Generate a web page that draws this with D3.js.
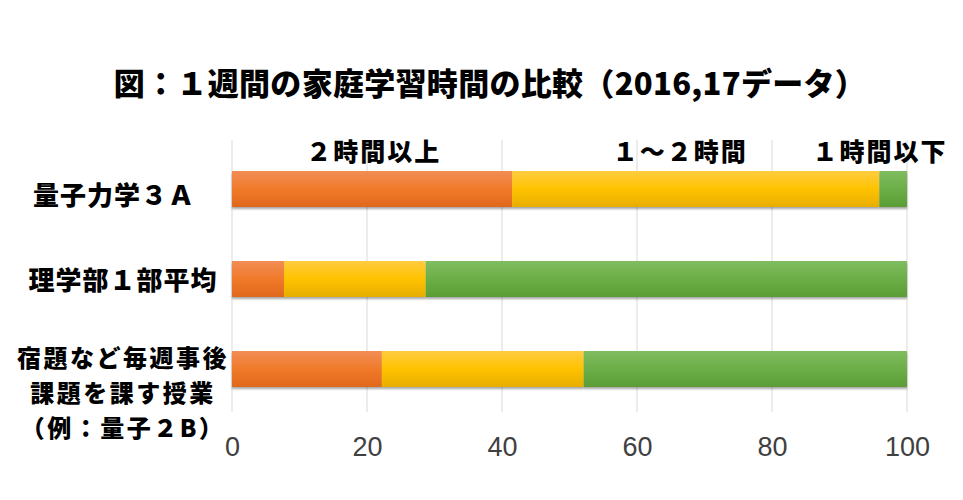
<!DOCTYPE html>
<html><head><meta charset="utf-8">
<script src="https://cdn.jsdelivr.net/npm/d3@7"></script>
<style>
html,body{margin:0;padding:0;background:#fff;}
svg{display:block;}
</style>
</head><body>
<div id="chart"></div>
<script>
const title = "図：１週間の家庭学習時間の比較（2016,17データ）";
const categories = [
  ["量子力学３Ａ"],
  ["理学部１部平均"],
  ["宿題など毎週事後", "課題を課す授業", "（例：量子２B）"]
];
const seriesNames = ["２時間以上", "１～２時間", "１時間以下"];
const over2h = [41.5, 7.7, 22.2];
const oneTo2h = [54.4, 21.0, 29.9];
const under1h = [4.1, 71.3, 47.9];
const tickValues = [0, 20, 40, 60, 80, 100];

const W = 963, H = 500;
const svg = d3.select("#chart").append("svg").attr("width", W).attr("height", H);
const defs = svg.append("defs");
const grads = [
  ["#f28d55", "#f07a2a", "#e0681c"],
  ["#ffcc40", "#ffc200", "#e6ae00"],
  ["#80bc60", "#6cae47", "#5a9d35"]
];
grads.forEach((g, i) => {
  const lg = defs.append("linearGradient").attr("id", "g" + i)
    .attr("x1", 0).attr("y1", 0).attr("x2", 0).attr("y2", 1);
  lg.append("stop").attr("offset", "0%").attr("stop-color", g[0]);
  lg.append("stop").attr("offset", "50%").attr("stop-color", g[1]);
  lg.append("stop").attr("offset", "100%").attr("stop-color", g[2]);
});
const f = defs.append("filter").attr("id", "sh").attr("x", "-5%").attr("y", "-20%").attr("width", "110%").attr("height", "160%");
f.append("feDropShadow").attr("dx", 0).attr("dy", 2).attr("stdDeviation", 1.2)
  .attr("flood-color", "#000").attr("flood-opacity", 0.35);

const x = d3.scaleLinear().domain([0, 100]).range([232, 907]);
const y = d3.scaleBand().domain(d3.range(categories.length)).range([144, 414])
  .paddingInner(0.6).paddingOuter(0.3);

// gridlines
svg.append("g").selectAll("line").data(tickValues).join("line")
  .attr("x1", d => x(d)).attr("x2", d => x(d))
  .attr("y1", 140).attr("y2", 412)
  .attr("stroke", "#d9d9d9").attr("stroke-width", 1);

// axis labels
const axis = d3.axisBottom(x).tickValues(tickValues).tickSize(0).tickPadding(0);
const ag = svg.append("g").attr("transform", "translate(0,437)").call(axis);
ag.select(".domain").remove();
ag.selectAll("text").attr("font-family", "'Liberation Sans', Arial, sans-serif")
  .attr("font-size", 27).attr("fill", "#404040").attr("dy", "0.71em");

// stacked data
const stackData = categories.map((c, i) => ({ i, a: over2h[i], b: oneTo2h[i], c: under1h[i] }));
const stack = d3.stack().keys(["a", "b", "c"]);
const layers = stack(stackData);
const bars = svg.append("g").attr("filter", "url(#sh)");
layers.forEach((layer, li) => {
  bars.append("g").selectAll("rect").data(layer).join("rect")
    .attr("x", d => x(d[0])).attr("width", d => x(d[1]) - x(d[0]))
    .attr("y", d => y(d.data.i)).attr("height", y.bandwidth())
    .attr("fill", "url(#g" + li + ")");
});

// category labels
const cjk = "'Noto Sans CJK JP', sans-serif";
const labelShift = [7, 2, 24];
categories.forEach((lines, i) => {
  const multi = lines.length > 1;
  const cy = y(i) + y.bandwidth() / 2 + labelShift[i];
  const lh = 35;
  const t = svg.append("text").attr("text-anchor", "middle")
    .attr("font-family", cjk).attr("font-weight", 900).attr("font-size", multi ? 24 : 26)
    .attr("letter-spacing", multi ? 2.5 : 1).attr("fill", "#000");
  lines.forEach((ln, k) => {
    t.append("tspan").attr("x", i === 0 ? 114 : 123)
      .attr("y", cy + (k - (lines.length - 1) / 2) * lh)
      .attr("dy", "0.36em").text(ln);
  });
});

// series labels
const seriesLabelAt = [21, 66.4, 96];
svg.append("g").selectAll("text").data(seriesNames).join("text")
  .attr("x", (d, i) => x(seriesLabelAt[i])).attr("y", 161)
  .attr("text-anchor", "middle").attr("font-family", cjk).attr("font-weight", 900)
  .attr("font-size", 25).attr("letter-spacing", 2).attr("fill", "#000").text(d => d);

// title
svg.append("text").attr("x", 490).attr("y", 95).attr("text-anchor", "middle")
  .attr("font-family", cjk).attr("font-weight", 900).attr("font-size", 31)
  .attr("letter-spacing", 0.3).attr("fill", "#000").text(title);
</script>
</body></html>
